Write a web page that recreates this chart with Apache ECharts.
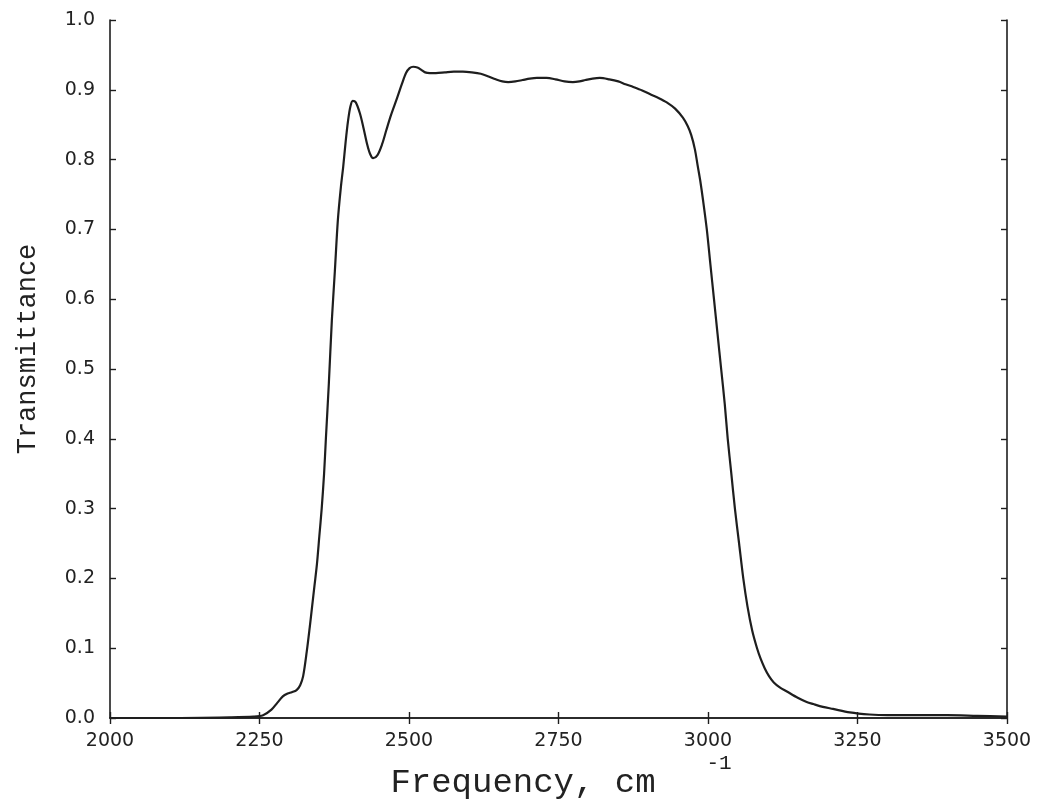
<!DOCTYPE html>
<html>
<head>
<meta charset="utf-8">
<script src="https://cdn.jsdelivr.net/npm/echarts@6/dist/echarts.min.js"></script>
<style>html,body{margin:0;padding:0;background:#fff}#c{width:1038px;height:811px}</style>
</head>
<body>
<div id="c"></div>
<script>
const frequency = [2000,2100,2200,2240,2256,2270,2280,2289,2297,2304,2312,2318,2323,2329,2334,2338,2342,2346,2350,2354,2358,2361,2366,2371,2376,2381,2386,2390,2394,2398,2402,2406,2411,2418,2424,2430,2435,2440,2447,2455,2462,2470,2480,2488,2495,2501,2507,2514,2520,2527,2535,2545,2560,2575,2590,2605,2620,2633,2645,2656,2666,2678,2690,2702,2714,2730,2745,2760,2774,2785,2795,2807,2819,2835,2850,2862,2875,2890,2905,2918,2931,2945,2958,2966,2972,2978,2983,2987,2992,2998,3004,3010,3016,3022,3028,3033,3039,3045,3052,3059,3066,3074,3082,3088,3095,3102,3110,3120,3132,3150,3165,3176,3192,3209,3237,3270,3300,3350,3400,3450,3500];
const transmittance = [0.0,0.0,0.001,0.002,0.004,0.012,0.022,0.031,0.035,0.037,0.040,0.047,0.060,0.095,0.130,0.160,0.190,0.220,0.260,0.300,0.350,0.400,0.480,0.570,0.640,0.713,0.760,0.790,0.825,0.855,0.876,0.884,0.882,0.866,0.845,0.822,0.808,0.802,0.806,0.822,0.842,0.864,0.888,0.908,0.924,0.931,0.933,0.932,0.929,0.925,0.924,0.924,0.925,0.926,0.926,0.925,0.923,0.919,0.915,0.912,0.911,0.912,0.914,0.916,0.917,0.917,0.915,0.912,0.911,0.912,0.914,0.916,0.917,0.915,0.912,0.908,0.904,0.899,0.893,0.888,0.882,0.873,0.860,0.848,0.835,0.815,0.790,0.770,0.740,0.700,0.650,0.600,0.550,0.500,0.450,0.400,0.350,0.300,0.250,0.200,0.160,0.125,0.100,0.085,0.071,0.060,0.051,0.044,0.038,0.029,0.023,0.020,0.016,0.013,0.008,0.005,0.004,0.004,0.004,0.003,0.002];
const xTicks = [2000,2250,2500,2750,3000,3250,3500];
const yTicks = [0.0,0.1,0.2,0.3,0.4,0.5,0.6,0.7,0.8,0.9,1.0];
const xTitle = 'Frequency, cm';
const xTitleSup = '-1';
const yTitle = 'Transmittance';

const points = frequency.map((f, i) => [f, transmittance[i]]);
const ink = '#1e1e1e';
const axisLine = {show: true, lineStyle: {color: ink, width: 1.6}};
const tickIn = {show: true, inside: true, length: 6, lineStyle: {color: ink, width: 1.4}};
const labelFont = {color: '#222', fontFamily: 'DejaVu Sans', fontSize: 19};
const chart = echarts.init(document.getElementById('c'), null, {renderer: 'canvas'});
chart.setOption({
  backgroundColor: '#fff',
  animation: false,
  grid: {left: 110, right: 31, top: 20, bottom: 93},
  xAxis: [
    {type: 'value', position: 'bottom', min: xTicks[0], max: xTicks[xTicks.length-1], interval: 250,
     axisLine, axisTick: tickIn, splitLine: {show: false},
     axisLabel: Object.assign({margin: 14, formatter: v => String(v)}, labelFont)},
    {type: 'value', position: 'top', min: xTicks[0], max: xTicks[xTicks.length-1], interval: 250,
     axisLine, axisTick: tickIn, splitLine: {show: false}, axisLabel: {show: false}}
  ],
  yAxis: [
    {type: 'value', position: 'left', min: 0, max: 1, interval: 0.1,
     axisLine, axisTick: tickIn, splitLine: {show: false},
     axisLabel: Object.assign({margin: 15, formatter: v => v.toFixed(1)}, labelFont)},
    {type: 'value', position: 'right', min: 0, max: 1, interval: 0.1,
     axisLine, axisTick: tickIn, splitLine: {show: false}, axisLabel: {show: false}}
  ],
  graphic: [
    {type: 'text', x: 523, y: 783,
     style: {text: xTitle, fill: '#222', font: '34px "Liberation Mono"', textAlign: 'center', textVerticalAlign: 'middle'}},
    {type: 'text', x: 719, y: 763,
     style: {text: xTitleSup, fill: '#222', font: '21px "Liberation Mono"', textAlign: 'center', textVerticalAlign: 'middle'}},
    {type: 'text', x: 28, y: 349, rotation: Math.PI / 2,
     style: {text: yTitle, fill: '#222', font: '27px "Liberation Mono"', textAlign: 'center', textVerticalAlign: 'middle'}}
  ],
  series: [{
    type: 'line', xAxisIndex: 0, yAxisIndex: 0, data: points,
    showSymbol: false, smooth: 0.3,
    lineStyle: {color: ink, width: 2.2}
  }]
});
</script>
</body>
</html>
